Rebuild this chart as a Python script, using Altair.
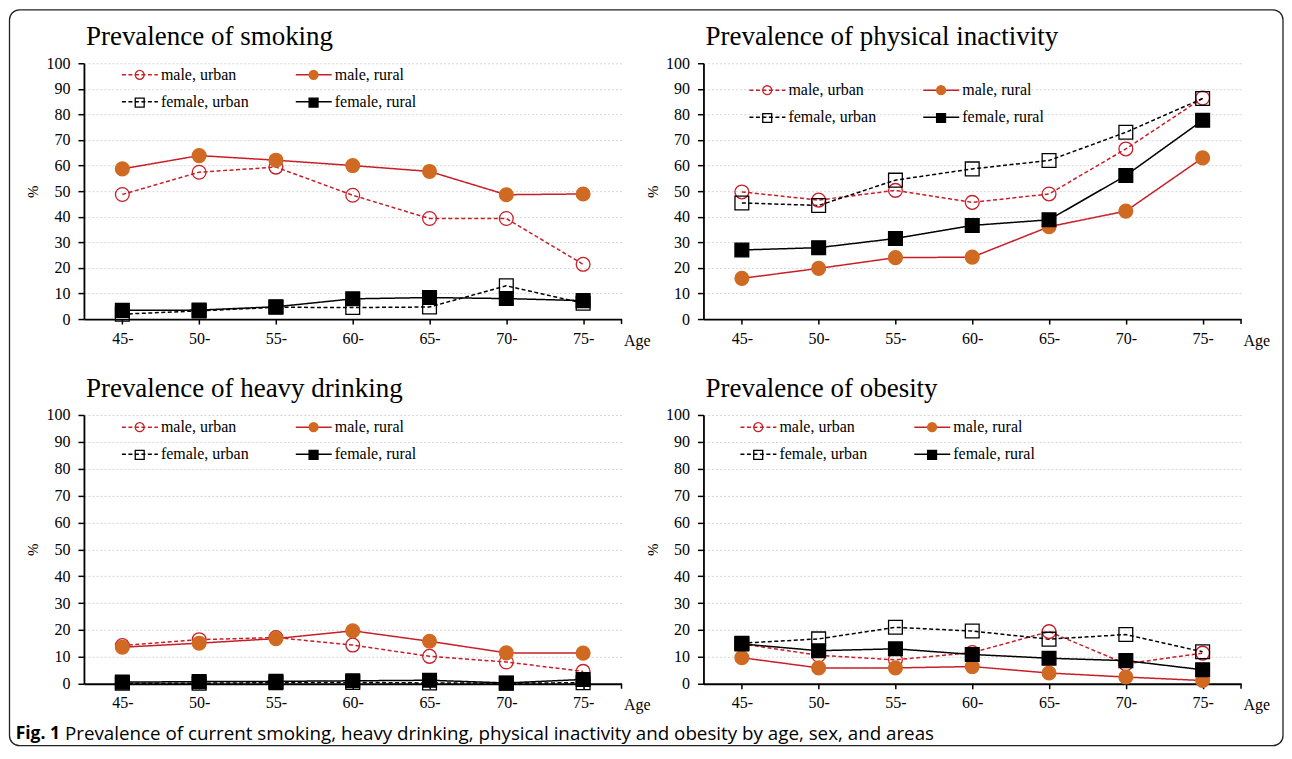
import altair as alt
import pandas as pd

ages = ["45-", "50-", "55-", "60-", "65-", "70-", "75-"]
series = ["male, urban", "male, rural", "female, urban", "female, rural"]

smoking_male_urban = [48.7, 57.4, 59.4, 48.4, 39.3, 39.3, 21.4]
smoking_male_rural = [58.7, 63.9, 62.1, 60.0, 57.7, 48.6, 48.9]
smoking_female_urban = [1.9, 3.2, 4.6, 4.5, 4.7, 13.0, 6.2]
smoking_female_rural = [3.4, 3.5, 4.8, 7.9, 8.4, 8.0, 7.2]

inactivity_male_urban = [49.7, 46.5, 50.3, 45.6, 48.9, 66.5, 86.4]
inactivity_male_rural = [15.9, 19.8, 24.0, 24.2, 36.1, 42.2, 63.0]
inactivity_female_urban = [45.4, 44.4, 54.3, 58.7, 62.0, 73.0, 86.2]
inactivity_female_rural = [27.0, 27.9, 31.5, 36.6, 38.8, 56.1, 77.7]

drinking_male_urban = [14.2, 16.4, 17.2, 14.4, 10.2, 8.1, 4.6]
drinking_male_rural = [13.6, 15.1, 16.8, 19.7, 15.8, 11.5, 11.4]
drinking_female_urban = [0.2, 0.2, 0.4, 0.5, 0.3, 0.2, 0.4]
drinking_female_rural = [0.6, 0.8, 0.9, 1.1, 1.3, 0.3, 1.6]

obesity_male_urban = [14.8, 10.6, 8.9, 11.6, 19.4, 7.4, 11.4]
obesity_male_rural = [9.7, 5.9, 5.9, 6.4, 4.0, 2.5, 1.2]
obesity_female_urban = [15.1, 16.7, 21.0, 19.6, 16.6, 18.3, 11.9]
obesity_female_rural = [14.8, 12.3, 13.0, 10.9, 9.5, 8.6, 5.2]

panel_titles = [
    "Prevalence of smoking",
    "Prevalence of physical inactivity",
    "Prevalence of heavy drinking",
    "Prevalence of obesity",
]
caption_bold = "Fig. 1"
caption_text = ("Prevalence of current smoking, heavy drinking, physical inactivity "
                "and obesity by age, sex, and areas")
y_ticks = [0, 10, 20, 30, 40, 50, 60, 70, 80, 90, 100]

RED = "#C81E28"
ORANGE = "#D06A22"
BLACK = "#000000"
SERIF = "Liberation Serif"
SANS = "Open Sans"

one = pd.DataFrame({"k": [0]})


def make_df(mu, mr, fu, fr):
    rows = []
    for s, vals in zip(series, [mu, mr, fu, fr]):
        for a, v in zip(ages, vals):
            rows.append({"age": a, "series": s, "value": v})
    return pd.DataFrame(rows)


def panel(df, title, w, h, lx, row1, title_offset=4, extras=()):
    xenc = alt.X(
        "age:N", sort=ages, scale=alt.Scale(domain=ages),
        axis=alt.Axis(
            title="Age", labelAngle=0, labelFont=SERIF, labelFontSize=16, labelColor="black",
            labelPadding=6, tickSize=5, tickColor="black", tickWidth=1.5,
            domainColor="black", domainWidth=1.8, grid=False,
            titleFont=SERIF, titleFontSize=16, titleFontWeight="normal", titleColor="black",
            titleX=w + 2, titleY=21, titleAlign="left", titleBaseline="middle", titleAngle=0,
        ),
    )
    yenc = alt.Y(
        "value:Q", scale=alt.Scale(domain=[0, 100], nice=False),
        axis=alt.Axis(
            title="%", values=y_ticks, labelFont=SERIF, labelFontSize=16, labelColor="black",
            labelPadding=8, tickSize=6, tickColor="black", tickWidth=1.5,
            domainColor="black", domainWidth=1.8,
            grid=True, gridColor="#d6d6d6", gridDash=[2, 2], gridWidth=1,
            titleFont=SERIF, titleFontSize=15, titleFontWeight="normal", titleColor="black",
            titleX=-51, titleY=h / 2, titleAlign="center", titleBaseline="middle", titleAngle=270,
        ),
    )
    # legend for the line part (stroke + dash) carrying the visible labels
    leg_line = alt.Legend(
        title=None, orient="none", legendX=lx, legendY=row1 - 19, columns=2, direction="horizontal",
        symbolType="stroke", symbolSize=1296, symbolStrokeWidth=1.5,
        labelFont=SERIF, labelFontSize=16, labelColor="black", labelOffset=2,
        columnPadding=44, rowPadding=0, padding=0, labelLimit=300,
    )
    # legend for the markers, laid over the middle of each legend line (no labels of its own)
    leg_pt = alt.Legend(
        title=None, orient="none", legendX=lx + 13.3, legendY=row1 - 5.7, columns=2, direction="horizontal",
        symbolSize=80, symbolStrokeWidth=1.3,
        labelExpr="''", labelFontSize=1, labelOffset=0,
        columnPadding=159, rowPadding=13, padding=0,
    )
    base = alt.Chart(df)
    lines = base.mark_line(strokeWidth=1.5).encode(
        x=xenc, y=yenc,
        stroke=alt.Stroke("series:N", scale=alt.Scale(domain=series, range=[RED, RED, BLACK, BLACK]),
                          legend=leg_line),
        strokeDash=alt.StrokeDash("series:N",
                                  scale=alt.Scale(domain=series, range=[[4, 2.5], [1, 0], [4, 2.5], [1, 0]]),
                                  legend=leg_line),
    )
    pts = base.mark_point(filled=True, size=190, strokeWidth=1.3, opacity=1).encode(
        x=xenc, y=yenc,
        shape=alt.Shape("series:N", scale=alt.Scale(domain=series, range=["circle", "circle", "square", "square"]),
                        legend=leg_pt),
        fill=alt.Fill("series:N", scale=alt.Scale(domain=series, range=["transparent", ORANGE, "transparent", BLACK]),
                      legend=leg_pt),
        stroke=alt.Stroke("series:N", scale=alt.Scale(domain=series, range=[RED, ORANGE, BLACK, BLACK]),
                          legend=leg_pt),
    )
    end_tick = alt.Chart(one).mark_rule(color="black", strokeWidth=1.5).encode(
        x=alt.value(w), y=alt.value(h), y2=alt.value(h + 5)
    )
    layered = alt.layer(lines, pts, end_tick, *extras).resolve_scale(
        stroke="independent", strokeDash="independent", fill="independent", shape="independent"
    ).resolve_legend(
        stroke="independent", strokeDash="independent", fill="independent", shape="independent"
    ).properties(
        width=w, height=h,
        title=alt.TitleParams(title, anchor="start", frame="group", font=SERIF, fontSize=27,
                              fontWeight="normal", color="black", dx=2, offset=title_offset),
    )
    return layered


frame = alt.Chart(one).mark_rect(fillOpacity=0, stroke="#222222", strokeWidth=1.3, cornerRadius=10).encode(
    x=alt.value(-74.5), x2=alt.value(1200), y=alt.value(-53.5), y2=alt.value(683)
)
cap1 = alt.Chart(one).mark_text(text=caption_bold, font=SANS, fontWeight="bold", fontSize=17.5,
                                align="right", baseline="middle", color="black").encode(
    x=alt.value(-24), y=alt.value(319)
)
cap2 = alt.Chart(one).mark_text(text=caption_text, font=SANS, fontSize=18.8,
                                align="left", baseline="middle", color="black").encode(
    x=alt.value(-19), y=alt.value(319)
)

tl = panel(make_df(smoking_male_urban, smoking_male_rural, smoking_female_urban, smoking_female_rural),
           panel_titles[0], 538, 256, 37, 11.6, title_offset=-42, extras=(frame,))
tr = panel(make_df(inactivity_male_urban, inactivity_male_rural, inactivity_female_urban, inactivity_female_rural),
           panel_titles[1], 538, 256, 45, 27)
bl = panel(make_df(drinking_male_urban, drinking_male_rural, drinking_female_urban, drinking_female_rural),
           panel_titles[2], 538, 269, 37, 12.2, extras=(cap1, cap2))
br = panel(make_df(obesity_male_urban, obesity_male_rural, obesity_female_urban, obesity_female_rural),
           panel_titles[3], 538, 269, 36, 12.2)

chart = alt.concat(
    tl, tr, bl, br, columns=2, spacing={"row": 96, "column": 82}, bounds="flush"
).properties(padding=0, background="white").configure_view(strokeWidth=0)

chart.save("out.html", embed_options={"renderer": "svg", "actions": False})
